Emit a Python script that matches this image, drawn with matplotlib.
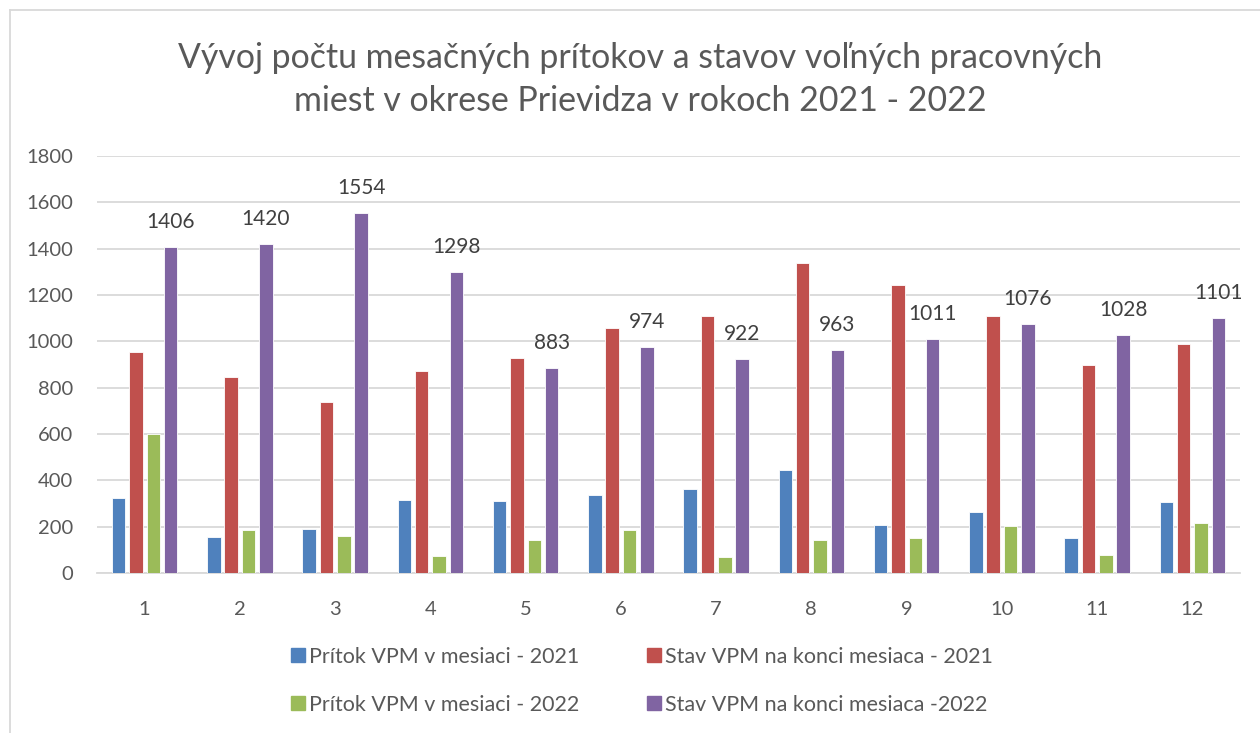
import numpy as np
import matplotlib.pyplot as plt
from matplotlib.lines import Line2D

plt.rcParams['font.family'] = ['Lato', 'DejaVu Sans']

# data
months = ['1', '2', '3', '4', '5', '6', '7', '8', '9', '10', '11', '12']
pritok_2021 = [324, 157, 190, 314, 311, 338, 364, 445, 207, 263, 153, 308]
stav_2021 = [955, 844, 739, 870, 929, 1058, 1110, 1340, 1242, 1111, 900, 990]
pritok_2022 = [600, 186, 161, 75, 141, 187, 69, 143, 151, 203, 76, 217]
stav_2022 = [1406, 1420, 1554, 1298, 883, 974, 922, 963, 1011, 1076, 1028, 1101]

labels = ['Prítok VPM v mesiaci - 2021', 'Stav VPM na konci mesiaca - 2021',
          'Prítok VPM v mesiaci - 2022', 'Stav VPM na konci mesiaca -2022']
colors = ['#4F81BD', '#C0504D', '#9BBB59', '#8064A2']
series = [pritok_2021, stav_2021, pritok_2022, stav_2022]

txt = '#595959'
fig = plt.figure(figsize=(12.6, 7.33), dpi=100)
ax = fig.add_axes([97/1260, 1 - 573/733, (1240-97)/1260, (573-156)/733])

x = np.arange(len(months))
w = 0.142
step = 0.182
for i, (vals, c) in enumerate(zip(series, colors)):
    ax.bar(x + (i - 1.5) * step, vals, width=w, color=c,
           edgecolor='white', linewidth=0.6, zorder=3)

# labels only on the purple series
for xi, v in zip(x + 1.5 * step, stav_2022):
    ax.text(xi, v + 108, str(v), ha='center', va='center', fontsize=15, color='#404040')

ax.set_xlim(-0.5, 11.5)
ax.set_ylim(0, 1800)
ax.set_yticks(range(0, 1801, 200))
ax.set_xticks(x)
ax.set_xticklabels(months)
ax.yaxis.grid(True, color='#D9D9D9', linewidth=1.3, zorder=0)
for s in ['top', 'right', 'left']:
    ax.spines[s].set_visible(False)
ax.spines['bottom'].set_color('#D9D9D9')
ax.spines['bottom'].set_linewidth(1.3)
ax.tick_params(axis='both', length=0, labelsize=14.5, colors=txt)
ax.tick_params(axis='y', pad=17)
ax.tick_params(axis='x', pad=20)

fig.text(0.508, 1 - 58/733, 'Vývoj počtu mesačných prítokov a stavov voľných pracovných',
         ha='center', va='center', fontsize=24.4, color=txt)
fig.text(0.508, 1 - 101/733, 'miest v okrese Prievidza v rokoch 2021 - 2022',
         ha='center', va='center', fontsize=24.4, color=txt)

# legend fills column-wise, so order blue, green, red, purple
order = [0, 2, 1, 3]
handles = [Line2D([], [], marker='s', linestyle='none', markersize=10,
                  markerfacecolor=colors[k], markeredgecolor=colors[k]) for k in order]
fig.legend(handles, [labels[k] for k in order], loc='center', bbox_to_anchor=(0.508, 1 - 681/733),
           ncol=2, frameon=False, fontsize=15.5, labelcolor=txt,
           handletextpad=0.0, columnspacing=3.0, labelspacing=1.3, handlelength=1.0)

# chart border
fig.add_artist(Line2D([10/1260, 10/1260], [0, 1 - 10/733], color='#D9D9D9', linewidth=1.3))
fig.add_artist(Line2D([10/1260, 1], [1 - 10/733, 1 - 10/733], color='#D9D9D9', linewidth=1.3))

fig.savefig('out.png', dpi=100)
